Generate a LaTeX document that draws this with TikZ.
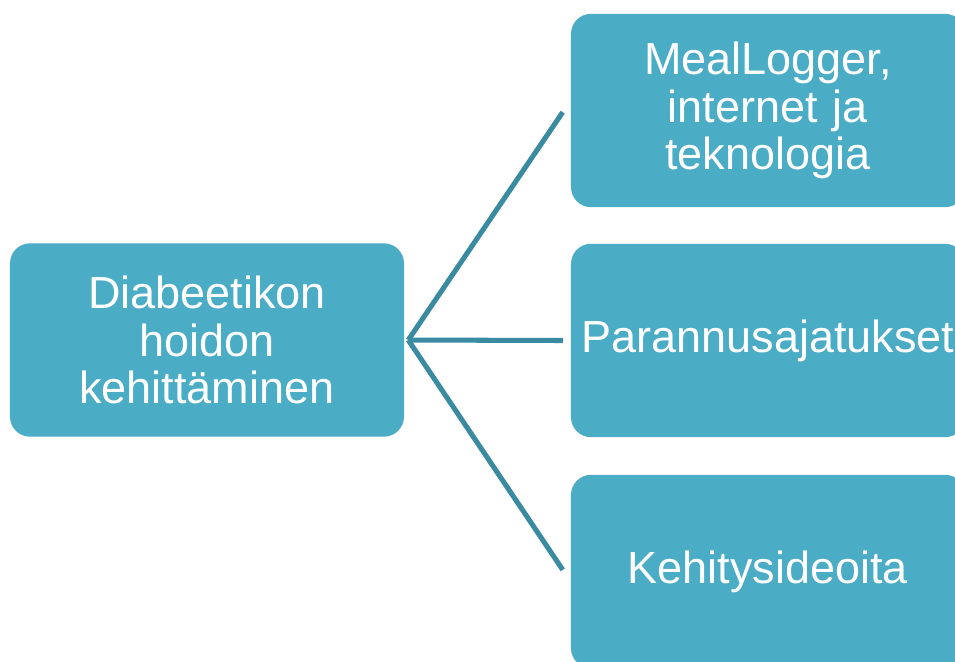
\documentclass[tikz,border=0pt]{standalone}
\usepackage{fontspec}
\setmainfont{Liberation Sans}
\definecolor{boxfill}{HTML}{4BACC6}
\definecolor{linkcol}{HTML}{3A8BA1}
\tikzset{
    topicbox/.style={fill=boxfill, rounded corners=0.6cm, inner sep=0pt,
        minimum width=11.82cm, minimum height=5.8cm, text width=11.82cm,
        align=center, text=white, font=\fontsize{38.4}{40.5}\selectfont},
    link/.style={draw=linkcol, line width=4.3pt}
}
\begin{document}
\begin{tikzpicture}[x=0.03cm, y=-0.03cm]
    % Frame
    \useasboundingbox (0, 0) rectangle (955, 661);
    \clip (0, 0) rectangle (955, 661);

    % Boxes
    \node[topicbox] (kehitys) at (207, 340) {Diabeetikon\\hoidon\\kehittäminen};
    \node[topicbox] (meal) at (768, 110.5) {MealLogger,\\internet ja\\teknologia};
    \node[topicbox] (parannus) at (768, 340.5) {Parannusajatukset};
    \node[topicbox] (ideat) at (768, 571.5) {Kehitysideoita};

    % Links
    \coordinate (hub) at ([xshift=0.12cm]kehitys.east);
    \draw[link] (hub) -- ([xshift=-0.24cm, yshift=-0.05cm]meal.west);
    \draw[link] (hub) -- ([xshift=-0.24cm]parannus.west);
    \draw[link] (hub) -- ([xshift=-0.24cm, yshift=0.05cm]ideat.west);
\end{tikzpicture}
\end{document}
